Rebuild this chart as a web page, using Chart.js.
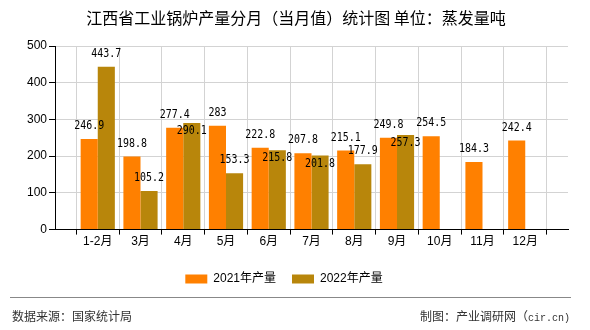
<!DOCTYPE html>
<html>
<head>
<meta charset="utf-8">
<script src="https://cdn.jsdelivr.net/npm/chart.js@4.4.0/dist/chart.umd.min.js"></script>
<style>
  body { margin: 0; background: #fff; }
  #wrap { position: relative; width: 590px; height: 330px; overflow: hidden; font-family: "Noto Sans CJK SC", sans-serif; }
  #title { position: absolute; left: 0; top: 7px; width: 592px; text-align: center; font-size: 16px; font-weight: normal; line-height: 20px; color: #000; }
  canvas { position: absolute; left: 0; top: 0; }
  #rule { position: absolute; left: 10px; top: 297px; width: 561px; height: 0; border-top: 1px solid #888; }
  .foot { position: absolute; top: 308px; font-size: 12px; line-height: 16px; color: #333; }
  #src { left: 12px; }
  #by { right: 20px; }
  #by span { font-family: "Liberation Mono", monospace; font-size: 10px; }
</style>
</head>
<body>
<div id="wrap">
  <canvas id="grafico" width="590" height="330"></canvas>
  <div id="title">江西省工业锅炉产量分月（当月值）统计图 单位：蒸发量吨</div>
  <div id="rule"></div>
  <div class="foot" id="src">数据来源：国家统计局</div>
  <div class="foot" id="by">制图：产业调研网（<span>cir.cn)</span></div>
</div>
<script>
var months = ['1-2月', '3月', '4月', '5月', '6月', '7月', '8月', '9月', '10月', '11月', '12月'];
var output2021 = [246.9, 198.8, 277.4, 283, 222.8, 207.8, 215.1, 249.8, 254.5, 184.3, 242.4];
var output2022 = [443.7, 105.2, 290.1, 153.3, 215.8, 201.8, 177.9, 257.3, null, null, null];
var yTicks = [0, 100, 200, 300, 400, 500];

// empty slot at each end, the axis runs half a month past the first and last bar group
function pad(arr, fill) {
  return [fill].concat(arr, [fill]);
}

var barLabels = {
  id: 'barLabels',
  afterDatasetsDraw: function (chart) {
    var ctx = chart.ctx;
    var firstY = [];
    chart.data.datasets.forEach(function (ds, d) {
      var meta = chart.getDatasetMeta(d);
      meta.data.forEach(function (bar, i) {
        var v = ds.data[i];
        if (v === null || v === undefined) return;
        var y = bar.y - 13;
        // 2022 label goes inside the bar top when it would hit the 2021 label
        if (d === 1 && firstY[i] !== undefined && Math.abs(firstY[i] - y) < 12) y = bar.y + 8;
        if (d === 0) firstY[i] = y;
        ctx.save();
        ctx.translate(bar.x, y);
        ctx.scale(0.83, 1);
        ctx.font = '12px "DejaVu Sans Mono"';
        ctx.textAlign = 'center';
        ctx.textBaseline = 'middle';
        ctx.fillStyle = '#000';
        ctx.fillText(String(v), 0, 0);
        ctx.restore();
      });
    });
  }
};

var data = {
  labels: pad(months, ''),
  datasets: [{
    label: '2021年产量',
    data: pad(output2021, null),
    backgroundColor: '#FF8000'
  }, {
    label: '2022年产量',
    data: pad(output2022, null),
    backgroundColor: '#B8860B'
  }]
};

var options = {
  responsive: false,
  animation: false,
  layout: { padding: { top: 46, right: 22, left: 0, bottom: 35 } },
  datasets: { bar: { categoryPercentage: 0.8, barPercentage: 1.0 } },
  plugins: {
    title: { display: false },
    tooltip: { enabled: false },
    legend: {
      position: 'bottom',
      labels: {
        boxWidth: 22,
        boxHeight: 9,
        padding: 16,
        color: '#000',
        font: { family: '"Liberation Sans", "Noto Sans CJK SC"', size: 12 }
      }
    }
  },
  scales: {
    x: {
      offset: false,
      grid: { color: '#d3d3d3', tickColor: '#000', tickLength: 5 },
      border: { color: '#000' },
      ticks: {
        autoSkip: false,
        maxRotation: 0,
        padding: 0,
        color: '#000',
        font: { family: '"Liberation Sans", "Noto Sans CJK SC"', size: 12 }
      },
      afterFit: function (s) { s.height = 27.4; }
    },
    y: {
      min: 0,
      max: 500,
      afterBuildTicks: function (s) { s.ticks = yTicks.map(function (v) { return { value: v }; }); },
      grid: { color: '#d3d3d3', tickColor: '#000', tickLength: 6 },
      border: { color: '#000' },
      ticks: {
        padding: 2,
        color: '#000',
        font: { family: '"Liberation Sans"', size: 12 }
      },
      afterFit: function (s) { s.width = 55; }
    }
  }
};

var ctx = document.getElementById('grafico').getContext('2d');
var barChart = new Chart(ctx, {
  type: 'bar',
  data: data,
  options: options,
  plugins: [barLabels]
});
</script>
</body>
</html>
